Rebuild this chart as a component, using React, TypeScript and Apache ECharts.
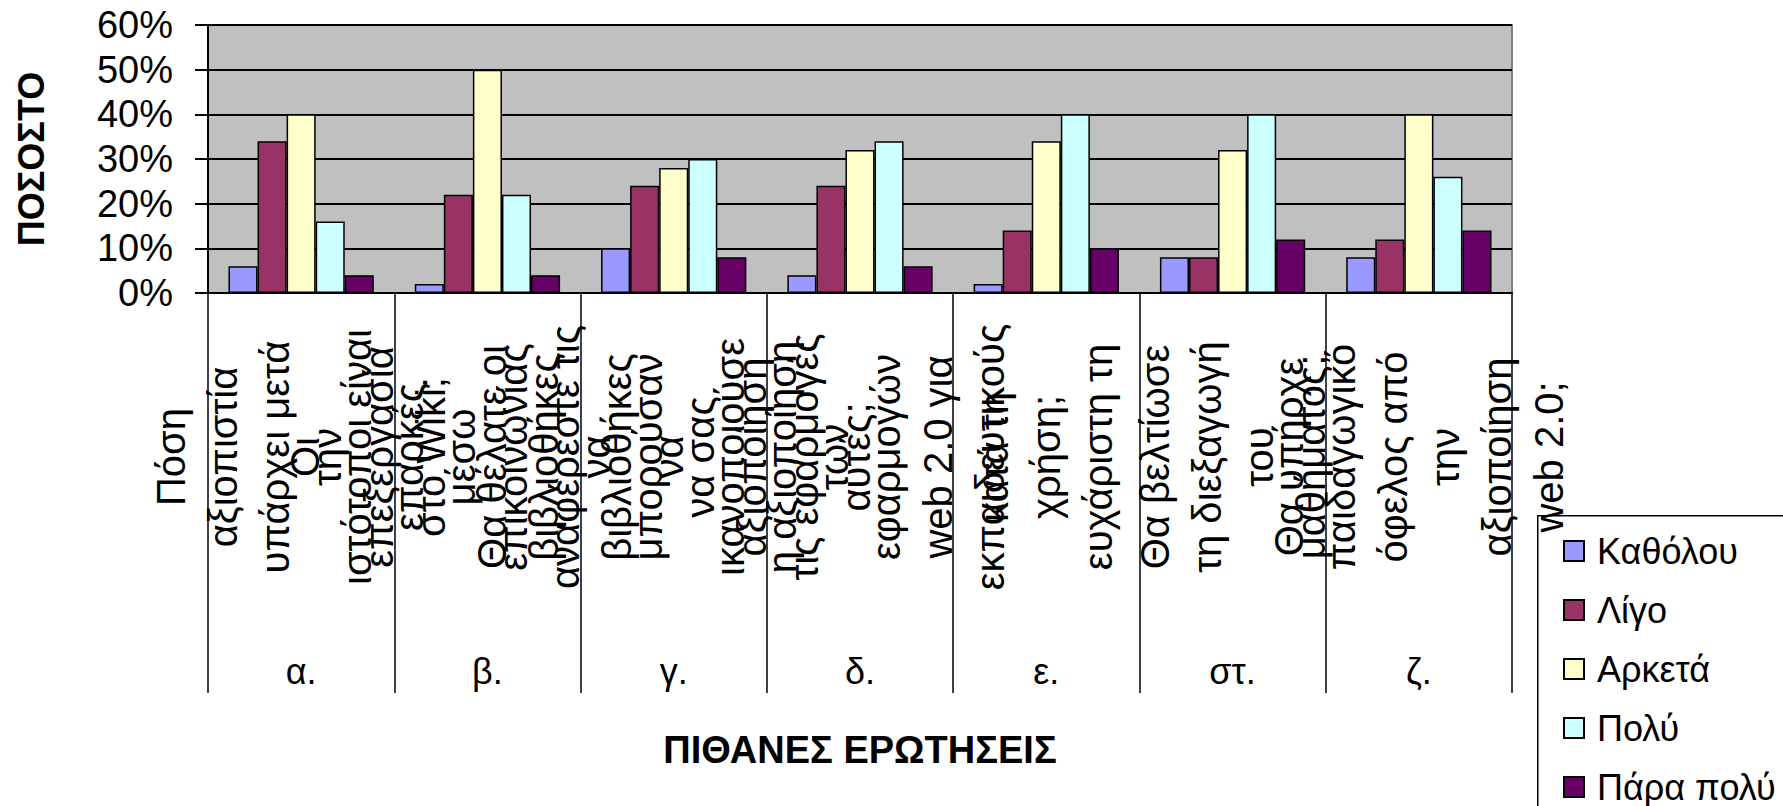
import React, { useEffect, useRef } from "react";
import * as echarts from "echarts";

const groupLetters = ["α.", "β.", "γ.", "δ.", "ε.", "στ.", "ζ."];
const questionLines = [
  ["Πόση", "αξιοπιστία", "υπάρχει μετά", "την", "επεξεργασία", "στο Wiki;"],
  ["Οι", "ιστότοποι είναι", "επαρκές", "μέσω", "επικοινωνίας", "αναφέρεστε τις", "βιβλιοθήκες", "να"],
  ["Θα θέλατε οι", "βιβλιοθήκες", "να", "μπορούσαν", "να σας", "αξιοποίηση", "τις εφαρμογές", "αυτές;"],
  ["ικανοποιούσε", "η αξιοποίηση", "των", "εφαρμογών", "web 2.0 για", "εκπαιδευτικούς"],
  ["κατά τη", "χρήση;", "ευχάριστη τη"],
  ["Θα βελτίωσε", "τη διεξαγωγή", "του", "μαθήματος;"],
  ["Θα υπήρχε", "παιδαγωγικό", "όφελος από", "την", "αξιοποίηση", "web 2.0;"],
];
const yTicks = [0, 10, 20, 30, 40, 50, 60];

const seriesNames = ["Καθόλου", "Λίγο", "Αρκετά", "Πολύ", "Πάρα πολύ"];
const katholou = [6, 2, 10, 4, 2, 8, 8];
const ligo = [34, 22, 24, 24, 14, 8, 12];
const arketa = [40, 50, 28, 32, 34, 32, 40];
const poly = [16, 22, 30, 34, 40, 40, 26];
const paraPoly = [4, 4, 8, 6, 10, 12, 14];
const seriesColors = ["#9999FF", "#993366", "#FFFFCC", "#CCFFFF", "#660066"];

const FONT = "'Liberation Sans', Arial, sans-serif";

export default function App() {
  const ref = useRef<HTMLDivElement>(null);
  useEffect(() => {
    if (!ref.current) return;
    const chart = echarts.init(ref.current, undefined, { renderer: "svg" });
    const values = [katholou, ligo, arketa, poly, paraPoly];
    const questionLabels = questionLines.map((l) => l.join("\n"));
    chart.setOption({
      animation: false,
      backgroundColor: "#ffffff",
      textStyle: { fontFamily: FONT },
      grid: {
        left: 208,
        right: 271,
        top: 25,
        bottom: 513,
        show: true,
        backgroundColor: "#C0C0C0",
        borderColor: "#808080",
        borderWidth: 2,
      },
      graphic: [
        {
          type: "rect",
          left: 1537,
          top: 515,
          shape: { width: 320, height: 400 },
          style: { fill: "#ffffff", stroke: "#000000", lineWidth: 1.5 },
          z: 0,
        },
      ],
      legend: {
        orient: "vertical",
        left: 1537,
        top: 515,
        data: seriesNames,
        padding: [18, 0, 0, 26],
        itemWidth: 20,
        itemHeight: 20,
        itemGap: 23,
        icon: "rect",
        z: 10,
        textStyle: {
          fontFamily: FONT,
          fontSize: 36,
          lineHeight: 34,
          color: "#000000",
          padding: [0, 0, 0, 8],
        },
      },
      xAxis: [
        {
          type: "category",
          data: questionLabels,
          position: "bottom",
          axisLine: { lineStyle: { color: "#000000", width: 2 } },
          axisTick: { show: true, length: 400, lineStyle: { color: "#000000", width: 1.5 } },
          axisLabel: {
            interval: 0,
            rotate: 90,
            align: "center",
            verticalAlign: "middle",
            margin: 164,
            fontSize: 40,
            lineHeight: 52,
            color: "#000000",
            fontFamily: FONT,
          },
        },
        {
          type: "category",
          data: groupLetters,
          position: "bottom",
          axisLine: { show: false },
          axisTick: { show: false },
          axisLabel: {
            interval: 0,
            margin: 378,
            verticalAlign: "middle",
            fontSize: 36,
            color: "#000000",
            fontFamily: FONT,
          },
          name: "ΠΙΘΑΝΕΣ ΕΡΩΤΗΣΕΙΣ",
          nameLocation: "middle",
          nameGap: 457,
          nameTextStyle: {
            fontSize: 38,
            fontWeight: "bold",
            color: "#000000",
            fontFamily: FONT,
            verticalAlign: "middle",
          },
        },
      ],
      yAxis: {
        type: "value",
        min: yTicks[0],
        max: yTicks[yTicks.length - 1],
        interval: 10,
        axisLine: { show: true, lineStyle: { color: "#000000", width: 2 } },
        axisTick: { show: true, length: 13, lineStyle: { color: "#000000", width: 2 } },
        splitLine: { show: true, lineStyle: { color: "#000000", width: 2 } },
        axisLabel: {
          formatter: "{value}%",
          fontSize: 38,
          margin: 35,
          color: "#000000",
          fontFamily: FONT,
        },
        name: "ΠΟΣΟΣΤΟ",
        nameLocation: "middle",
        nameRotate: 90,
        nameGap: 177,
        nameTextStyle: {
          fontSize: 36,
          fontWeight: "bold",
          color: "#000000",
          fontFamily: FONT,
          verticalAlign: "middle",
        },
      },
      series: seriesNames.map((name, i) => ({
        type: "bar",
        name,
        xAxisIndex: 0,
        data: values[i],
        barGap: "0%",
        barCategoryGap: "22%",
        itemStyle: {
          color: seriesColors[i],
          borderColor: "#000000",
          borderWidth: 1.5,
        },
      })),
    });
    return () => chart.dispose();
  }, []);
  return (
    <div
      ref={ref}
      style={{ position: "fixed", left: 0, top: 0, width: 1783, height: 806 }}
    />
  );
}
